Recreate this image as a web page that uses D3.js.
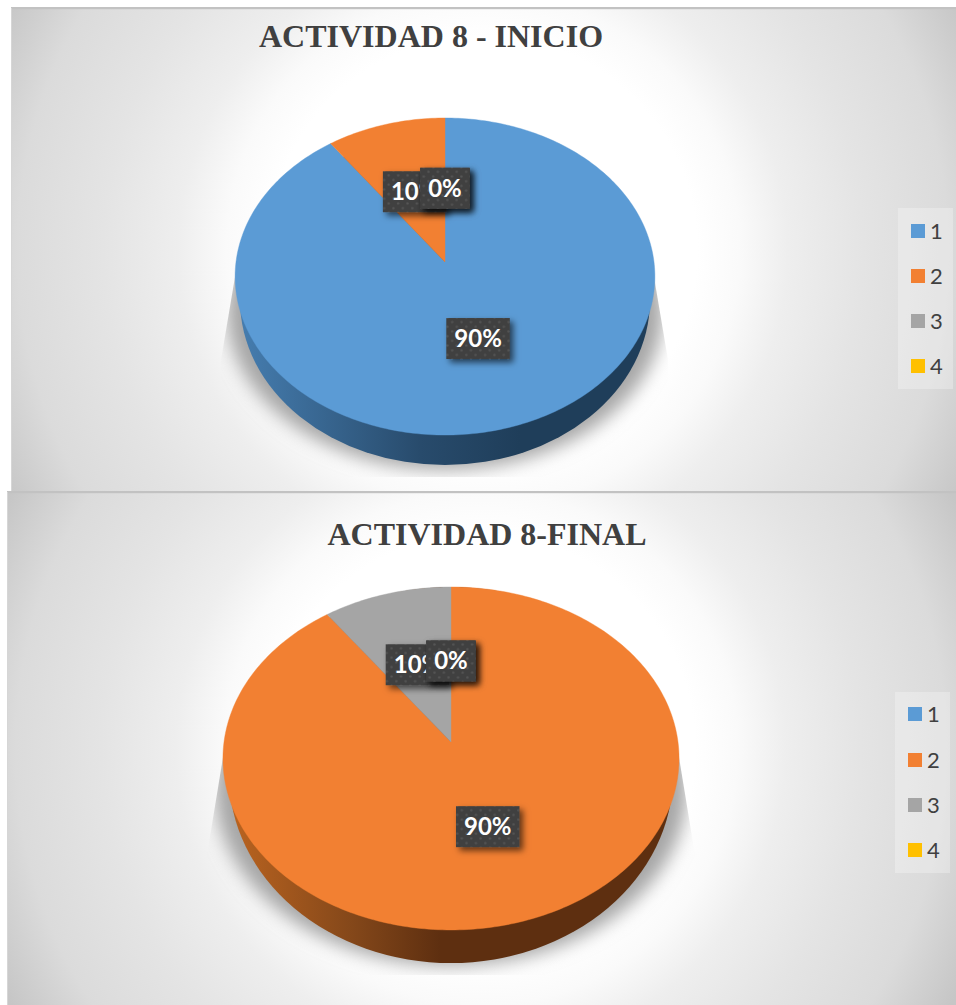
<!DOCTYPE html>
<html><head><meta charset="utf-8">
<script src="https://cdn.jsdelivr.net/npm/d3@7"></script>
<style>html,body{margin:0;padding:0;background:#fff}svg{display:block}</style>
</head><body><div id="c"></div>
<script>
const categories = ["1","2","3","4"];
const colors = ["#5b9bd5","#f28032","#a5a5a5","#ffc000"];
const inicioTitle = "ACTIVIDAD 8 - INICIO";
const inicioValues = [90,10,0,0];
const finalTitle = "ACTIVIDAD 8-FINAL";
const finalValues = [0,90,10,0];

const W=956,H=1005;
const svg=d3.select("#c").append("svg").attr("width",W).attr("height",H);
const defs=svg.append("defs");
const color=d3.scaleOrdinal(categories,colors);

const pat=defs.append("pattern").attr("id","dots").attr("patternUnits","userSpaceOnUse").attr("width",9.4).attr("height",9.4);
pat.append("rect").attr("width",9.4).attr("height",9.4).attr("fill","#404040");
[[2.3,2.3],[7,7]].forEach(p=>pat.append("circle").attr("cx",p[0]).attr("cy",p[1]).attr("r",1.2).attr("fill","#545454"));
const ds=defs.append("filter").attr("id","ds").attr("x","-30%").attr("y","-30%").attr("width","170%").attr("height","180%");
ds.append("feDropShadow").attr("dx",3.5).attr("dy",3.5).attr("stdDeviation",3).attr("flood-color","#000").attr("flood-opacity",.6);
defs.append("filter").attr("id","blur").attr("x","-20%").attr("y","-20%").attr("width","140%").attr("height","140%")
  .append("feGaussianBlur").attr("stdDeviation",9);

const charts=[
 {id:"a",title:inicioTitle,values:inicioValues,panel:[11,8,945,484],bgc:[483,250],titleX:431,titleY:47,titleSize:32,
  apex:[445,262],A:157.2,B:209,k:-0.0915,labelR:.49,
  base:{cy:300,rx:205,ry:165},
  shadow:{cy:312,rx:218,ry:158,clip:[[237,265],[221,360],[221,477],[668,477],[668,360],[652,265]]},
  side:["#457cae","#284b6c","#1f3e5a"],sideX:[243,420,520],
  legend:{x:898,y:208,w:55,h:181,ys:[231,276,321,366]}},
 {id:"b",title:finalTitle,values:finalValues,panel:[7,492,949,513],bgc:[481,748],titleX:487,titleY:545,titleSize:32,
  apex:[451,742],A:169.9,B:227,k:-0.0962,labelR:.5,
  base:{cy:775,rx:222,ry:188},
  shadow:{cy:790,rx:236,ry:176,clip:[[225,745],[207,855],[207,975],[695,975],[695,855],[677,745]]},
  side:["#bb6420","#85481a","#5e2f10"],sideX:[228,350,440],
  legend:{x:895,y:692,w:55,h:181,ys:[714,760,805,850]}}
];

const pie=d3.pie().sort(null);
const line=d3.line();
const STEP=Math.PI/180;

charts.forEach(c=>{
  const g=svg.append("g");
  const [px,py,pw,ph]=c.panel;
  const bg=defs.append("radialGradient").attr("id","bg"+c.id).attr("gradientUnits","userSpaceOnUse")
    .attr("cx",c.bgc[0]).attr("cy",c.bgc[1]).attr("r",535);
  [[0,"#fff"],[.4,"#fff"],[.48,"#fafafa"],[.57,"#eee"],[.71,"#e4e4e4"],[.87,"#dbdbdb"],[1,"#c6c6c6"]]
    .forEach(s=>bg.append("stop").attr("offset",s[0]).attr("stop-color",s[1]));
  g.append("rect").attr("x",px).attr("y",py).attr("width",pw).attr("height",ph).attr("fill",`url(#bg${c.id})`);
  g.append("rect").attr("x",px).attr("y",py-1).attr("width",pw).attr("height",2.2).attr("fill","#c2c2c2");
  g.append("rect").attr("x",px).attr("y",py).attr("width",1).attr("height",ph).attr("fill","#d6d6d6");

  // title
  g.append("text").attr("x",c.titleX).attr("y",c.titleY).attr("text-anchor","middle")
    .attr("font-family","'Liberation Serif'").attr("font-weight","bold").attr("font-size",c.titleSize)
    .attr("fill","#404040").text(c.title);

  // perspective projection of the unit disc
  const project=(r,a)=>{
    const u=r*Math.sin(a),v=-r*Math.cos(a),d=1+c.k*v;
    return [c.apex[0]+c.B*u/d,c.apex[1]+c.A*v/d];
  };
  const arcPts=(a0,a1)=>d3.range(a0,a1,STEP).concat([a1]).map(a=>project(1,a));
  const cx=c.apex[0];

  // floor shadow
  defs.append("clipPath").attr("id","sc"+c.id).append("path").attr("d",line(c.shadow.clip)+"Z");
  g.append("g").attr("clip-path",`url(#sc${c.id})`)
   .append("ellipse").attr("cx",cx).attr("cy",c.shadow.cy).attr("rx",c.shadow.rx).attr("ry",c.shadow.ry)
   .attr("fill","#a6a6a6").attr("filter","url(#blur)");

  // side wall
  const sg=defs.append("linearGradient").attr("id","side"+c.id).attr("gradientUnits","userSpaceOnUse")
    .attr("x1",c.sideX[0]).attr("x2",c.sideX[2]).attr("y1",0).attr("y2",0);
  c.side.forEach((col,i)=>sg.append("stop")
    .attr("offset",(c.sideX[i]-c.sideX[0])/(c.sideX[2]-c.sideX[0])).attr("stop-color",col));
  g.append("ellipse").attr("cx",cx).attr("cy",c.base.cy).attr("rx",c.base.rx).attr("ry",c.base.ry).attr("fill",`url(#side${c.id})`);

  // top face
  const arcs=pie(c.values);
  g.selectAll("path.slice").data(arcs.filter(d=>d.endAngle>d.startAngle)).join("path").attr("class","slice")
    .attr("d",d=>line([c.apex].concat(arcPts(d.startAngle,d.endAngle)))+"Z")
    .attr("fill",d=>color(categories[d.index])).attr("stroke",d=>color(categories[d.index])).attr("stroke-width",.4);

  // data labels: largest drawn first, zero-value ones on top
  const total=d3.sum(c.values);
  const order=arcs.slice().sort((a,b)=>d3.descending(a.value,b.value));
  order.forEach(d=>{
    const p=project(c.labelR,(d.startAngle+d.endAngle)/2);
    const lab=g.append("g").attr("transform",`translate(${p[0]},${p[1]})`);
    const box=lab.append("rect");
    const t=lab.append("text").attr("text-anchor","middle").attr("dy",8.3)
      .attr("font-family","Lato").attr("font-weight","bold").attr("font-size",24).attr("fill","#fff")
      .text(d3.format(".0%")(d.value/total));
    const w=t.node().getComputedTextLength()+16;
    box.attr("x",-w/2).attr("y",-20.5).attr("width",w).attr("height",41).attr("fill","url(#dots)").attr("filter","url(#ds)");
  });

  // legend
  const L=c.legend;
  g.append("rect").attr("x",L.x).attr("y",L.y).attr("width",L.w).attr("height",L.h).attr("fill","#fff").attr("fill-opacity",.28);
  const it=g.selectAll("g.li").data(categories).join("g").attr("class","li")
    .attr("transform",(d,i)=>`translate(${L.x},${L.ys[i]})`);
  it.append("rect").attr("x",13).attr("y",-7).attr("width",14).attr("height",14).attr("fill",d=>color(d));
  it.append("text").attr("x",32).attr("y",8).attr("font-family","Lato").attr("font-size",22).attr("fill","#404040").text(d=>d);
});
</script></body></html>
